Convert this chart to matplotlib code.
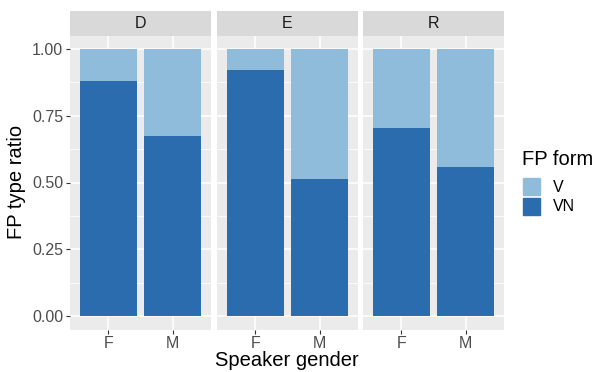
import numpy as np
import matplotlib.pyplot as plt
from matplotlib.patches import Rectangle

plt.rcParams['font.family'] = ['Liberation Sans', 'DejaVu Sans']

# Dados
facetas = ['D', 'E', 'R']
generos = ['F', 'M']
vn = {'D': [0.88, 0.674], 'E': [0.921, 0.513], 'R': [0.703, 0.557]}
rotulos_y = ['0.00', '0.25', '0.50', '0.75', '1.00']
valores_y = [0.0, 0.25, 0.5, 0.75, 1.0]

cor_v = '#8fbcdb'
cor_vn = '#2a6cae'

W, H = 597, 372
fig = plt.figure(figsize=(W / 100, H / 100), dpi=100)

def px(x0, y0, x1, y1):
    return [x0 / W, 1 - y1 / H, (x1 - x0) / W, (y1 - y0) / H]

lefts = [70, 217, 363]
pw = 141
top, bot = 35.5, 329.5
strip_top = 11

for i, f in enumerate(facetas):
    ax = fig.add_axes(px(lefts[i], top, lefts[i] + pw, bot))
    ax.set_facecolor('#ebebeb')
    x = np.arange(1, len(generos) + 1)
    ax.bar(x, vn[f], width=0.9, color=cor_vn, zorder=3)
    ax.bar(x, 1 - np.array(vn[f]), bottom=vn[f], width=0.9, color=cor_v, zorder=3)
    ax.set_xlim(0.4, 2.6)
    ax.set_ylim(-0.05, 1.05)
    for yv in valores_y:
        ax.axhline(yv, color='white', lw=1.1, zorder=1)
    for yv in [0.125, 0.375, 0.625, 0.875]:
        ax.axhline(yv, color='white', lw=0.55, zorder=1)
    for xv in x:
        ax.axvline(xv, color='white', lw=1.1, zorder=1)
    for s in ax.spines.values():
        s.set_visible(False)
    ax.set_xticks(x)
    ax.set_xticklabels(generos, fontsize=11.5, color='#4d4d4d')
    ax.set_yticks(valores_y)
    ax.tick_params(color='#333333', length=3, width=0.8, pad=2)
    if i == 0:
        ax.set_yticklabels(rotulos_y, fontsize=11.5, color='#4d4d4d')
    else:
        ax.set_yticklabels([])
        ax.tick_params(axis='y', length=0)

    # faixa do painel
    sx = fig.add_axes(px(lefts[i], strip_top, lefts[i] + pw, top))
    sx.set_facecolor('#d9d9d9')
    sx.set_xticks([])
    sx.set_yticks([])
    for s in sx.spines.values():
        s.set_visible(False)
    sx.text(0.5, 0.5, f, ha='center', va='center', fontsize=11.5, color='#1a1a1a',
            transform=sx.transAxes)

fig.text(17 / W, 1 - 182 / H, 'FP type ratio', rotation=90, ha='center', va='center',
         fontsize=14.5)
fig.text(287 / W, 1 - 360 / H, 'Speaker gender', ha='center', va='center', fontsize=14.5)

# Legenda
fig.text(522 / W, 1 - 159 / H, 'FP form', ha='left', va='center', fontsize=14.5)
for k, (lab, cor) in enumerate([('V', cor_v), ('VN', cor_vn)]):
    y0 = 178 + k * 20
    fig.patches.append(Rectangle((523 / W, 1 - (y0 + 17) / H), 17 / W, 17 / H,
                                 transform=fig.transFigure, color=cor))
    fig.text(553 / W, 1 - (y0 + 9) / H, lab, ha='left', va='center', fontsize=11.5)

plt.savefig('out.png', dpi=100)
